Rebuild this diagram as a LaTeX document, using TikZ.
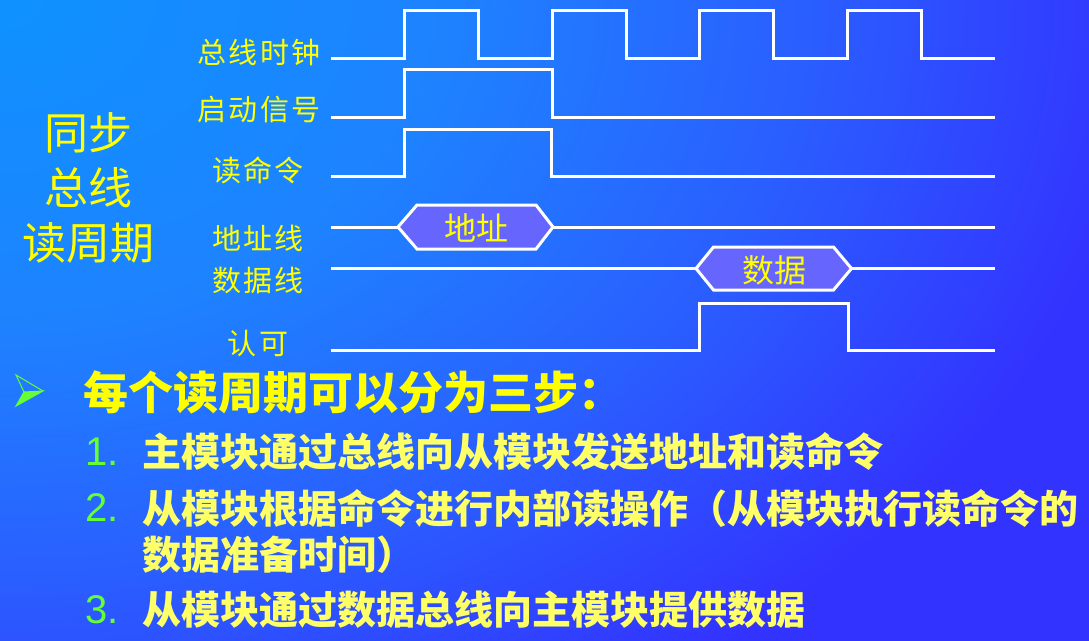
\documentclass[tikz,border=0pt]{standalone}
\usepackage{fontspec}
\usepackage{tikz}

\newfontfamily\cjk{Noto Sans CJK SC}
\newfontfamily\cjklbl[LetterSpace=8]{Noto Sans CJK SC}
\newfontfamily\numfont{Liberation Sans}

\definecolor{bgA}{RGB}{14,146,255}
\definecolor{bgB}{RGB}{30,130,255}
\definecolor{bgC}{RGB}{42,95,255}
\definecolor{bgD}{RGB}{51,51,255}
\definecolor{sigyellow}{RGB}{255,255,0}
\definecolor{listyellow}{RGB}{255,255,102}
\definecolor{numgreen}{RGB}{102,255,51}
\definecolor{hexfill}{RGB}{102,102,255}

\pgfdeclareradialshading{bgglow}{\pgfpoint{0bp}{0bp}}{color(0bp)=(bgA); color(4.5bp)=(bgB); color(8bp)=(bgC); color(11.5bp)=(bgD); color(50bp)=(bgD)}

\begin{document}
\begin{tikzpicture}[
	x=1pt, y=-1pt,
	wire/.style = {draw=white, line width=3pt},
	hexbox/.style = {wire, fill=hexfill},
	siglabel/.style = {inner sep=0pt, text=sigyellow, font=\cjklbl\fontsize{29}{32}\selectfont},
	hextext/.style = {inner sep=0pt, text=sigyellow, font=\cjk\fontsize{32}{34}\selectfont},
	headtext/.style = {inner sep=0pt, anchor=west, text=sigyellow, font=\cjk\bfseries\fontsize{45}{48}\selectfont},
	steptext/.style = {inner sep=0pt, anchor=west, text=listyellow, font=\cjk\bfseries\fontsize{39}{42}\selectfont},
	stepnum/.style = {inner sep=0pt, anchor=west, text=numgreen, font=\numfont\fontsize{40}{42}\selectfont}
	]

	\useasboundingbox (0,0) rectangle (1089,640);
	\begin{scope}
		\clip (0,0) rectangle (1089,640);
		\shade[shading=bgglow] (0,0) ellipse [x radius=2500, y radius=1800];
	\end{scope}

	% left title
	\node[align=center, inner sep=0pt, text=sigyellow, font=\cjk\fontsize{44}{55}\selectfont] (title) at (88,188) {同步\\总线\\读周期};

	% signal names
	\node[siglabel] (clkname) at (259,52) {总线时钟};
	\node[siglabel] (startname) at (259,110) {启动信号};
	\node[siglabel] (readname) at (258,170) {读命令};
	\node[siglabel] (addrname) at (258,238) {地址线};
	\node[siglabel] (dataname) at (258,280) {数据线};
	\node[siglabel] (ackname) at (258,343) {认可};

	% waveforms
	\coordinate (clk0) at (331,58);
	\coordinate (clkE) at (995,58);
	\draw[wire] (clk0) -| (404,10) -| (478,58) -| (552,10) -| (626,58)
		-| (699,10) -| (773,58) -| (847,10) -| (921,58) -- (clkE);

	\coordinate (start0) at (331,117);
	\coordinate (startE) at (995,117);
	\draw[wire] (start0) -| (404,69) -| (552,117) -- (startE);

	\coordinate (read0) at (331,176);
	\coordinate (readE) at (995,176);
	\draw[wire] (read0) -| (404,129) -| (551,176) -- (readE);

	\coordinate (addr0) at (331,227);
	\coordinate (addrL) at (398,227);
	\coordinate (addrR) at (553,227);
	\coordinate (addrE) at (995,227);
	\draw[hexbox] (addrL) -- (417,205) -- (536,205) -- (addrR) -- (536,249) -- (417,249) -- cycle;
	\draw[wire] (addr0) -- (addrL);
	\draw[wire] (addrR) -- (addrE);
	\node[hextext] (addrtxt) at (476,228) {地址};

	\coordinate (data0) at (331,268.5);
	\coordinate (dataL) at (696,268.5);
	\coordinate (dataR) at (851.5,268.5);
	\coordinate (dataE) at (995,268.5);
	\draw[hexbox] (dataL) -- (713.5,247) -- (833.5,247) -- (dataR) -- (833.5,290) -- (713.5,290) -- cycle;
	\draw[wire] (data0) -- (dataL);
	\draw[wire] (dataR) -- (dataE);
	\node[hextext] (datatxt) at (774,270) {数据};

	\coordinate (ack0) at (331,350);
	\coordinate (ackE) at (995,350);
	\draw[wire] (ack0) -| (699,303) -| (848,350) -- (ackE);

	% bullet and steps
	\draw[numgreen, line width=1pt, fill=numgreen] (24,392) -- (43,391) -- (16,406) -- cycle;
	\draw[numgreen, line width=1pt] (24,392) -- (16,375) -- (43,391);
	\node[headtext] (head) at (83,392) {每个读周期可以分为三步：};

	\node[stepnum] (n1) at (85,452) {1.};
	\node[steptext] (s1) at (142,452) {主模块通过总线向从模块发送地址和读命令};
	\node[stepnum] (n2) at (85,508) {2.};
	\node[steptext] (s2) at (142,508) {从模块根据命令进行内部读操作（从模块执行读命令的};
	\node[steptext] (s2b) at (142,555) {数据准备时间）};
	\node[stepnum] (n3) at (85,610) {3.};
	\node[steptext] (s3) at (142,610) {从模块通过数据总线向主模块提供数据};
\end{tikzpicture}
\end{document}
